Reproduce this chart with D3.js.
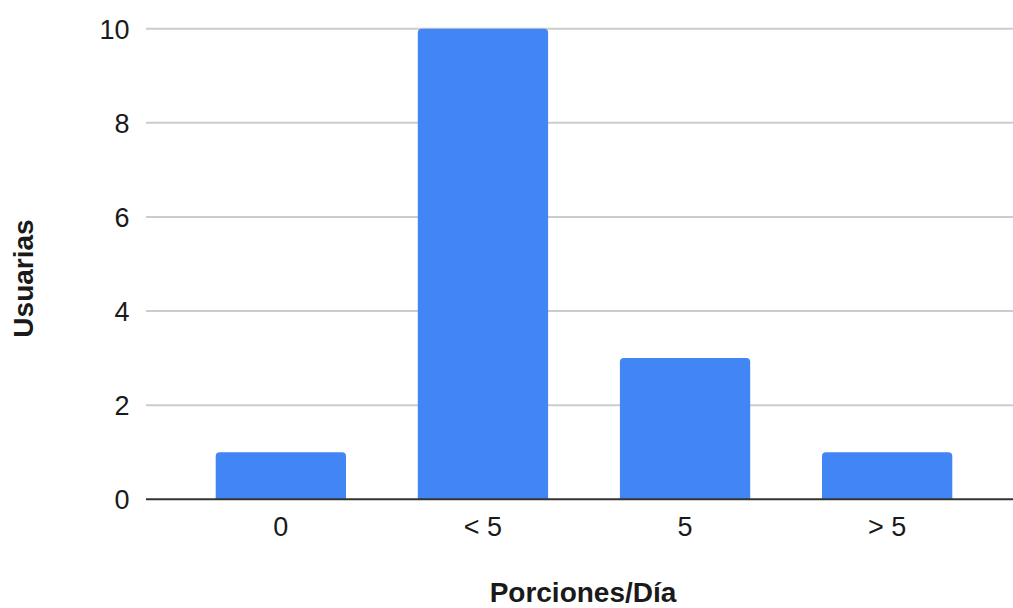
<!DOCTYPE html>
<html><head><meta charset="utf-8">
<script src="https://cdn.jsdelivr.net/npm/d3@7"></script>
<style>body{margin:0;background:#fff}svg{display:block;font-family:"Liberation Sans",Arial,sans-serif}</style>
</head><body>
<script>
const categories = ["0", "< 5", "5", "> 5"];
const values = [1, 10, 3, 1];
const yTicks = [0, 2, 4, 6, 8, 10];
const xTitle = "Porciones/Día";
const yTitle = "Usuarias";

const W = 1013, H = 608;
const plotL = 146, plotR = 1013, plotT = 28.7, plotB = 499.3;
const svg = d3.select("body").append("svg").attr("width", W).attr("height", H);

const x = d3.scaleBand().domain(categories).range([179.8, 988.2]).paddingInner(0.3553).paddingOuter(0.3553/2);
const y = d3.scaleLinear().domain([0, 10]).range([plotB, plotT]);

// gridlines
svg.append("g").selectAll("line").data(yTicks.filter(d => d !== 0)).join("line")
  .attr("x1", plotL).attr("x2", plotR).attr("y1", d => y(d)).attr("y2", d => y(d))
  .attr("stroke", "#cccccc").attr("stroke-width", 2);

// y tick labels
const yAxis = d3.axisLeft(y).tickValues(yTicks).tickSize(0).tickPadding(0).tickFormat(d3.format("d"));
const gy = svg.append("g").attr("transform", `translate(129.5,0)`).call(yAxis);
gy.select(".domain").remove();
gy.selectAll("text").attr("font-size", 27).attr("fill", "#1a1a1a").attr("font-family", "Liberation Sans, Arial, sans-serif").attr("dy", "0.35em");

// bars with rounded top corners
const r = 4;
function barPath(x0, w, yTop, yBot) {
  return `M${x0},${yBot}V${yTop + r}Q${x0},${yTop} ${x0 + r},${yTop}H${x0 + w - r}Q${x0 + w},${yTop} ${x0 + w},${yTop + r}V${yBot}Z`;
}
svg.append("g").selectAll("path").data(values).join("path")
  .attr("d", (d, i) => barPath(x(categories[i]), x.bandwidth(), y(d), y(0)))
  .attr("fill", "#4285f4");

// x axis line
svg.append("line").attr("x1", plotL).attr("x2", plotR).attr("y1", y(0)).attr("y2", y(0))
  .attr("stroke", "#333").attr("stroke-width", 2);

// x tick labels
const xAxis = d3.axisBottom(x).tickSize(0).tickPadding(0);
const gx = svg.append("g").attr("transform", `translate(0,${y(0)})`).call(xAxis);
gx.select(".domain").remove();
gx.selectAll("text").attr("font-size", 27).attr("fill", "#1a1a1a").attr("font-family", "Liberation Sans, Arial, sans-serif").attr("dy", null).attr("y", 37);

// titles
svg.append("text").attr("x", 583).attr("y", 602).attr("text-anchor", "middle")
  .attr("font-size", 28).attr("font-weight", "bold").attr("fill", "#1a1a1a").text(xTitle);
svg.append("text").attr("transform", "translate(33,278.5) rotate(-90)").attr("text-anchor", "middle")
  .attr("font-size", 28).attr("font-weight", "bold").attr("fill", "#1a1a1a").text(yTitle);
</script>
</body></html>
